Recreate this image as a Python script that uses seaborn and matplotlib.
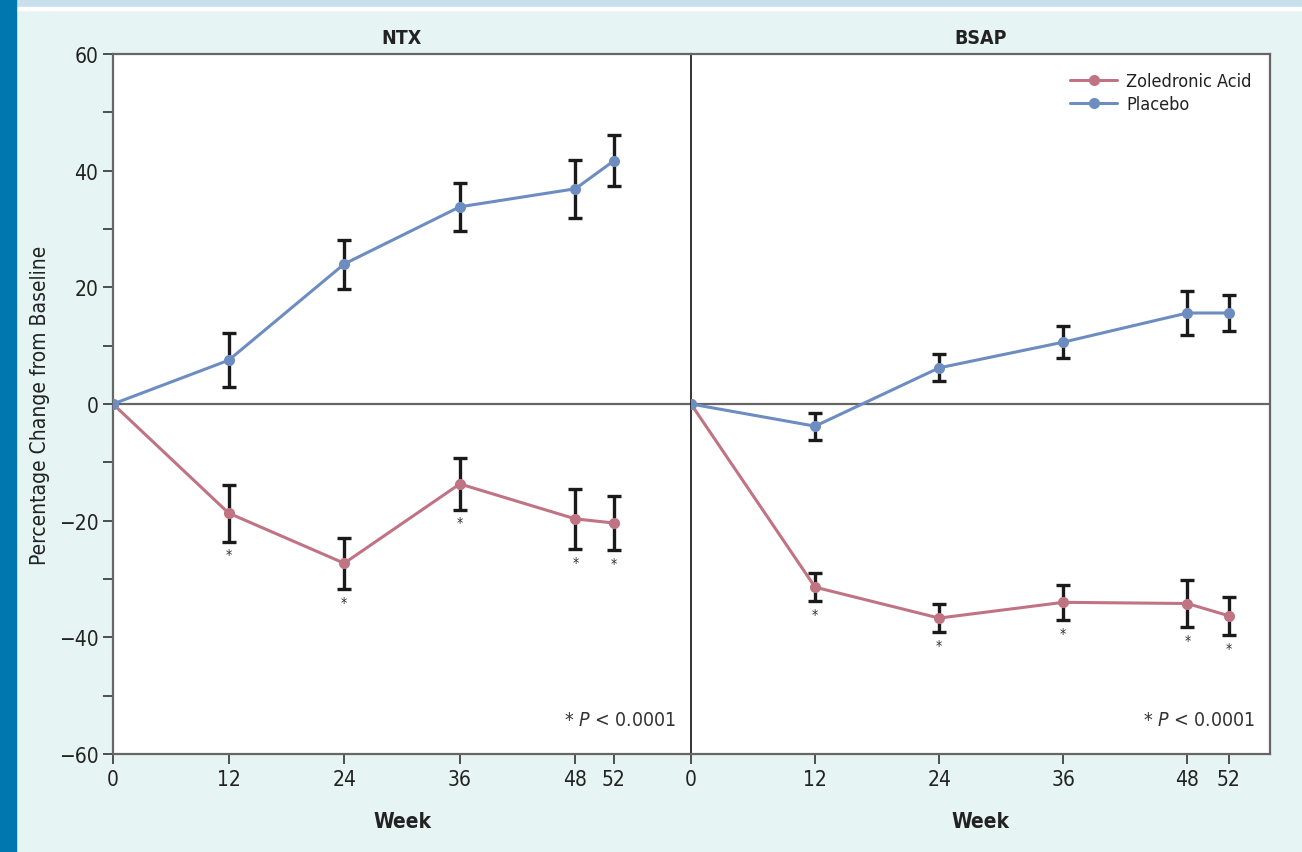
import numpy as np
import pandas as pd
import matplotlib
matplotlib.use("Agg")
import matplotlib.pyplot as plt
import seaborn as sns

weeks = [0, 12, 24, 36, 48, 52]

ntx_zol = [0, -18.7, -27.3, -13.7, -19.7, -20.4]
ntx_zol_err = [0, 4.9, 4.4, 4.4, 5.2, 4.7]
ntx_pla = [0, 7.5, 24.0, 33.8, 36.9, 41.7]
ntx_pla_err = [0, 4.6, 4.2, 4.1, 5.0, 4.4]

bsap_zol = [0, -31.4, -36.7, -34.0, -34.2, -36.3]
bsap_zol_err = [0, 2.4, 2.4, 3.0, 4.0, 3.3]
bsap_pla = [0, -3.8, 6.2, 10.6, 15.6, 15.6]
bsap_pla_err = [0, 2.3, 2.3, 2.7, 3.8, 3.1]

groups = ["Zoledronic Acid", "Placebo"]
colors = {"Zoledronic Acid": "#C07383", "Placebo": "#6D8DC0"}

sns.set_style("white")
plt.rcParams["font.family"] = ["DejaVu Sans"]
plt.rcParams["font.stretch"] = "condensed"
plt.rcParams["mathtext.fontset"] = "dejavusans"

bg = "#E6F4F4"
fig = plt.figure(figsize=(13.02, 8.53), dpi=100, facecolor=bg)
# decorative bands
fig.patches.append(plt.Rectangle((0, 1 - 8 / 853), 1, 8 / 853, transform=fig.transFigure,
                                 color="#C8DFEC", zorder=0))
fig.patches.append(plt.Rectangle((0, 1 - 11 / 853), 1, 3 / 853, transform=fig.transFigure,
                                 color="white", zorder=0))
fig.patches.append(plt.Rectangle((0, 0), 16 / 1302, 1, transform=fig.transFigure,
                                 color="#0077AE", zorder=1))

ax1 = fig.add_axes([113 / 1302, 1 - 755 / 853, 578 / 1302, 700 / 853])
ax2 = fig.add_axes([691 / 1302, 1 - 755 / 853, 579 / 1302, 700 / 853], sharey=ax1)

panels = [
    (ax1, "NTX", ntx_zol, ntx_zol_err, ntx_pla, ntx_pla_err, 60),
    (ax2, "BSAP", bsap_zol, bsap_zol_err, bsap_pla, bsap_pla_err, 56),
]

for ax, title, zol, zol_err, pla, pla_err, xmax in panels:
    df = pd.DataFrame({
        "Week": weeks * 2,
        "value": zol + pla,
        "err": zol_err + pla_err,
        "group": ["Zoledronic Acid"] * len(weeks) + ["Placebo"] * len(weeks),
    })
    ax.axhline(0, color="#666666", lw=1.6, zorder=1)
    sub = df[df["Week"] > 0]
    ax.errorbar(sub["Week"], sub["value"], yerr=sub["err"], fmt="none",
                ecolor="#1a1a1a", elinewidth=2.4, capsize=5, capthick=2.4, zorder=2)
    sns.lineplot(data=df, x="Week", y="value", hue="group", hue_order=groups,
                 palette=colors, marker="o", markersize=8, markeredgewidth=0,
                 linewidth=2.2, ax=ax, legend=(ax is ax2), zorder=3)
    zsub = sub[sub["group"] == "Zoledronic Acid"]
    for w, v, e in zip(zsub["Week"], zsub["value"], zsub["err"]):
        ax.text(w, v - e - 1.0, "*", ha="center", va="top", fontsize=10, color="#333333")
    ax.text(0.975, 0.035, r"* $\it{P}$ < 0.0001", transform=ax.transAxes,
            ha="right", va="bottom", fontsize=14, color="#333333")
    ax.set_title(title, fontsize=14, fontweight="bold", color="#222222", pad=8)
    ax.set_xlim(0, xmax)
    ax.set_xticks(weeks)
    ax.set_xticklabels([str(w) for w in weeks])
    ax.set_xlabel("Week", fontsize=15, fontweight="bold", color="#222222", labelpad=16)
    ax.set_facecolor("white")
    for s in ax.spines.values():
        s.set_color("#666666")
        s.set_linewidth(1.6)
    ax.tick_params(axis="x", direction="out", length=7, width=1.2, color="#333333",
                   labelsize=15, labelcolor="#222222", bottom=True, pad=4)

ax1.set_ylim(-60, 60)
ax1.set_yticks([-60, -40, -20, 0, 20, 40, 60])
ax1.set_yticklabels(["\u221260", "\u221240", "\u221220", "0", "20", "40", "60"])
ax1.set_yticks([-50, -30, -10, 10, 30, 50], minor=True)
ax1.tick_params(axis="y", which="both", direction="out", length=7, width=1.2,
                color="#333333", labelsize=15, labelcolor="#222222", left=True)
ax1.set_ylabel("Percentage Change from Baseline", fontsize=15, color="#222222", labelpad=6)
ax1.spines["right"].set_visible(False)

ax2.spines["left"].set_color("#111111")
ax2.spines["left"].set_linewidth(1.2)
ax2.tick_params(axis="y", which="both", left=False, labelleft=False)
ax2.set_ylabel("")

sns.move_legend(ax2, "upper right", bbox_to_anchor=(1.0, 1.0), frameon=False,
                fontsize=13, title=None, handlelength=2.6, handletextpad=0.5,
                borderaxespad=0.6, labelspacing=0.3)
for t in ax2.get_legend().get_texts():
    t.set_color("#222222")

fig.savefig("out.png", dpi=100, facecolor=bg)
